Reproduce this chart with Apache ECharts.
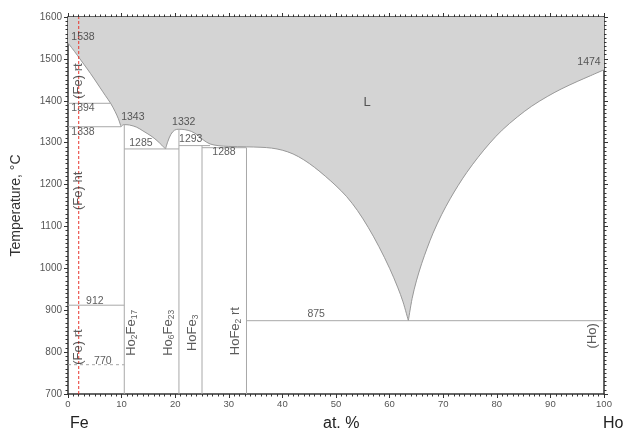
<!DOCTYPE html>
<html>
<head>
<meta charset="utf-8">
<script src="https://cdn.jsdelivr.net/npm/echarts@6/dist/echarts.min.js"></script>
<style>html,body{margin:0;padding:0;background:#fff}#c{width:626px;height:439px}</style>
</head>
<body>
<div id="c"></div>
<script>
// Liquidus branches [at.% Ho, T °C], split at the eutectic cusps
const liquidusFe = [[0,1538],[1.2,1518],[2.4,1497],[3.6,1476],[4.8,1454],[6.0,1431],[7.0,1412],[8.0,1393],[8.8,1374],[9.4,1357],[9.8,1342],[9.9,1338]];
const liquidusHo2Fe17 = [[9.9,1338],[10.2,1342],[10.5,1343],[11.5,1342],[12.8,1337],[14.0,1328],[15.5,1316],[16.6,1305],[17.5,1294],[18.2,1285]];
const liquidusMid = [[18.2,1285],[18.6,1302],[19.2,1320],[19.9,1330],[20.7,1332],[21.8,1331],[23.0,1327],[24.2,1318],[25.3,1306],[26.5,1297],[28,1293],[30,1291],[33.3,1290],[36,1289],[38,1287],[40,1282],[42,1273],[44,1259],[46,1241],[48,1220],[50,1197],[52,1171],[54,1138],[56,1098],[58,1052],[60,1000],[61.5,955],[62.5,920],[63.5,875]];
const liquidusHo = [[63.5,875],[64.2,928],[65.0,970],[66.0,1012],[67.0,1048],[68.1,1084],[69.7,1128],[71.3,1166],[72.8,1198],[74.4,1229],[76.5,1265],[78.7,1299],[81.0,1330],[83.8,1361],[86.5,1387],[89.4,1410],[92.0,1428],[95.0,1446],[97.5,1460],[100,1474]];
// Isotherms: [T, from at.%, to at.%]
const isotherms = [[1394,0,8.0],[1338,0,9.9],[1285,10.5,20.7],[1293,20.7,26.5],[1288,25,33.3],[912,0,10.5],[875,33.3,100]];
const magneticLines = [[770,0,10.5]];
// Compound lines: [at.% Ho, top T]
const compounds = [[10.5,1343],[20.7,1332],[25,1293],[33.3,1288]];
const redLineX = 2.0;
// Temperature labels [x, T, text]
const tempLabels = [[2.8,1552,'1538'],[2.8,1383,'1394'],[2.8,1326,'1338'],[12.1,1361,'1343'],[21.6,1349,'1332'],[13.6,1299,'1285'],[22.9,1309,'1293'],[29.1,1278,'1288'],[5.0,922,'912'],[6.5,779,'770'],[46.3,891,'875'],[97.2,1493,'1474']];
// Phase labels [x, T, text, rotated]
const phaseLabels = [[55.8,1397,'L',0],[2.0,1447,'(Fe) rt',1],[2.0,1185,'(Fe) ht',1],[1.9,812,'(Fe) rt',1],[11.9,846,'{m|Ho}{s|2}{m|Fe}{s|17}',1],[18.7,846,'{m|Ho}{s|6}{m|Fe}{s|23}',1],[23.3,846,'{m|HoFe}{s|3}',1],[31.3,850,'{m|HoFe}{s|2}{m| rt}',1],[97.8,839,'(Ho)',1]];
const xTicks = [0,10,20,30,40,50,60,70,80,90,100];
const yTicks = [700,800,900,1000,1100,1200,1300,1400,1500,1600];

const FONT = 'Liberation Sans, Arial, sans-serif';
const lineGray = '#a8a8a8';
const fillGray = '#d4d4d4';
const branches = [liquidusFe, liquidusHo2Fe17, liquidusMid, liquidusHo];
const series = [];
// base fill (covers seams between branches)
const allPts = [];
branches.forEach((b,i) => b.forEach((p,j) => { if (i===0 || j>0) allPts.push(p); }));
series.push({type:'line', data: allPts, symbol:'none', lineStyle:{width:0, opacity:0},
  areaStyle:{color:fillGray, opacity:1, origin:'end'}, z:1, silent:true});
branches.forEach(b => series.push({type:'line', data: b, symbol:'none', smooth:0.35,
  lineStyle:{color:'#9a9a9a', width:1}, areaStyle:{color:fillGray, opacity:1, origin:'end'}, z:1, silent:true}));
isotherms.forEach(r => series.push({type:'line', data:[[r[1],r[0]],[r[2],r[0]]], symbol:'none', lineStyle:{color:lineGray,width:1}, z:2, silent:true}));
magneticLines.forEach(r => series.push({type:'line', data:[[r[1],r[0]],[r[2],r[0]]], symbol:'none', lineStyle:{color:lineGray,width:1,type:[3,3]}, z:2, silent:true}));
compounds.forEach(c => series.push({type:'line', data:[[c[0],yTicks[0]],[c[0],c[1]]], symbol:'none', lineStyle:{color:lineGray,width:1}, z:2, silent:true}));
series.push({type:'line', data:[[redLineX,yTicks[0]],[redLineX,yTicks[yTicks.length-1]]], symbol:'none', lineStyle:{color:'#e8352e',width:1,type:[3,2]}, z:3, silent:true});
series.push({type:'scatter', symbolSize:0, z:5, silent:true,
  data: tempLabels.map(t => ({value:[t[0],t[1]], name:t[2]})),
  label:{show:true, position:'inside', formatter:p=>p.name, color:'#333', fontSize:10.5, fontFamily:FONT}});
series.push({type:'scatter', symbolSize:0, z:5, silent:true,
  data: phaseLabels.map(t => ({value:[t[0],t[1]], name:t[2], label:{rotate: t[3]?90:0}})),
  label:{show:true, position:'inside', formatter:p=>p.name, color:'#333', fontSize:13, fontFamily:FONT,
    rich:{m:{fontSize:13,color:'#333',fontFamily:FONT}, s:{fontSize:8.5,color:'#333',fontFamily:FONT,padding:[6,0,0,0]}}}});

const axisCommon = {
  axisLine:{show:true, onZero:false, lineStyle:{color:'#333', width:1.5}},
  axisTick:{show:true, inside:false, length:4, lineStyle:{color:'#333', width:1}},
  minorTick:{show:true, splitNumber:10, length:2.5, lineStyle:{color:'#333', width:1}},
  splitLine:{show:false}
};
const option = {
  animation:false,
  backgroundColor:'#fff',
  grid:{left:68, right:22, top:17, bottom:45, containLabel:false},
  xAxis:[
    Object.assign({type:'value', min:xTicks[0], max:xTicks[xTicks.length-1], interval:10, position:'bottom',
      axisLabel:{color:'#555', fontSize:9.5, fontFamily:FONT, margin:5, formatter:v=>String(v)}}, axisCommon),
    Object.assign({type:'value', min:xTicks[0], max:xTicks[xTicks.length-1], interval:10, position:'top',
      axisLabel:{show:false}}, axisCommon)
  ],
  yAxis:[
    Object.assign({type:'value', min:yTicks[0], max:yTicks[yTicks.length-1], interval:100, position:'left',
      name:'Temperature, °C', nameLocation:'middle', nameGap:45,
      nameTextStyle:{color:'#333', fontSize:14, fontFamily:FONT},
      axisLabel:{color:'#555', fontSize:10, fontFamily:FONT, margin:6, formatter:v=>String(v)}}, axisCommon),
    Object.assign({type:'value', min:yTicks[0], max:yTicks[yTicks.length-1], interval:100, position:'right',
      axisLabel:{show:false}}, axisCommon)
  ],
  graphic:[
    {type:'text', left:70, top:416, style:{text:'Fe', font:'16px '+FONT, fill:'#222'}},
    {type:'text', left:323, top:416, style:{text:'at. %', font:'16px '+FONT, fill:'#222'}},
    {type:'text', left:603, top:416, style:{text:'Ho', font:'16px '+FONT, fill:'#222'}}
  ],
  series: series
};
const chart = echarts.init(document.getElementById('c'), null, {renderer:'canvas'});
chart.setOption(option);
</script>
</body>
</html>
